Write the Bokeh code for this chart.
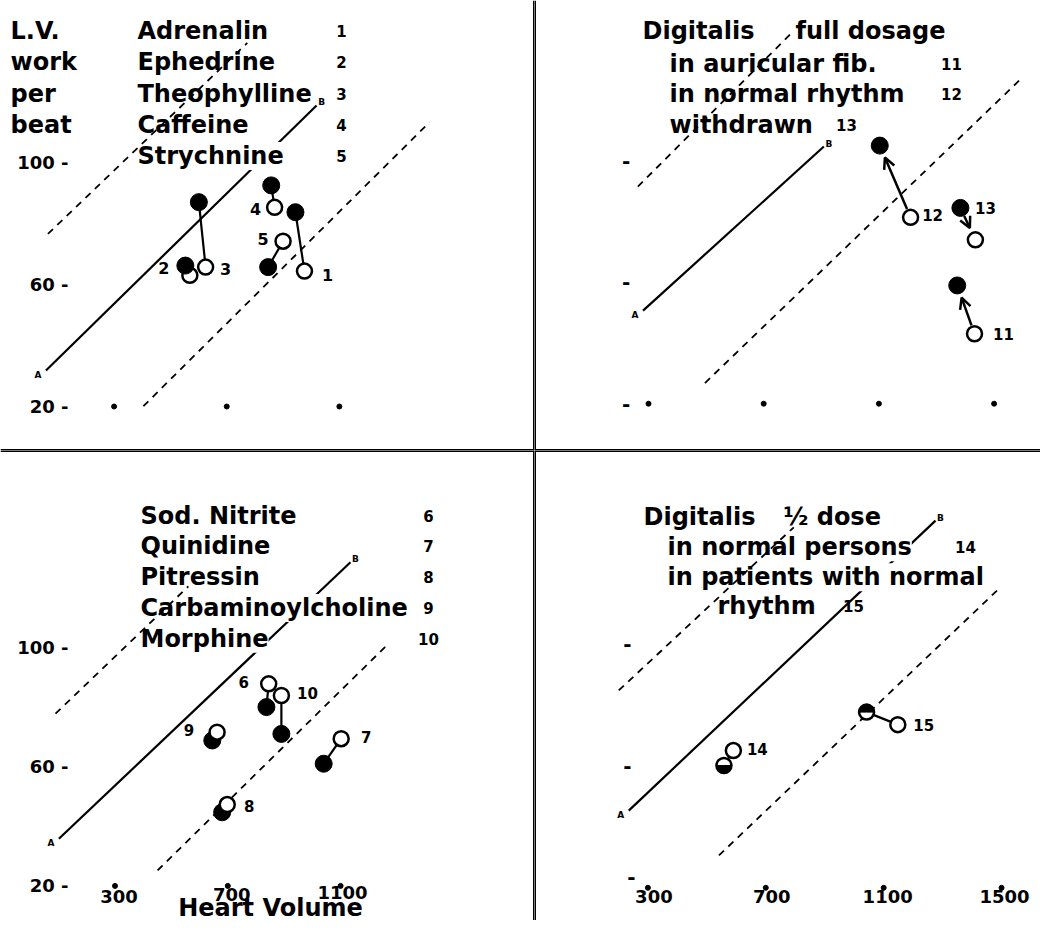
import math
from bokeh.plotting import figure
from bokeh.layouts import gridplot
from bokeh.models import ColumnDataSource, Span, Arrow, OpenHead
from bokeh.core.properties import value
from bokeh.embed import file_html
from bokeh.resources import INLINE

FONT = value("DejaVu Sans")

# ---------------- data ----------------
y_ticks = [20, 60, 100]
x_ticks = [300, 700, 1100, 1500]
x_tick_labels = ["300", "700", "1100", "1500"]
y_title_rows = ["L.V.", "work", "per", "beat"]
x_title = "Heart Volume"

# upper left: drugs 1-5 (open = control, filled = after drug)
p1_names = ["Adrenalin", "Ephedrine", "Theophylline", "Caffeine", "Strychnine"]
p1_ids = ["1", "2", "3", "4", "5"]
p1_open_x = [976, 569, 625, 870, 900]
p1_open_y = [64.4, 63.0, 65.7, 85.3, 74.2]
p1_fill_x = [944, 553, 601, 858, 847]
p1_fill_y = [83.7, 66.2, 87.0, 92.5, 65.7]

# upper right: digitalis, full dosage 11-13
p2_title = ["Digitalis", "full dosage"]
p2_rows = ["in auricular fib.", "in normal rhythm", "withdrawn"]
p2_ids = ["11", "12", "13"]
p2_open_x = [1432, 1210, 1435]
p2_open_y = [43.0, 81.3, 73.9]
p2_fill_x = [1372, 1103, 1383]
p2_fill_y = [58.9, 104.9, 84.4]
p2_arrow_from = ["open", "open", "filled"]

# lower left: drugs 6-10
p3_names = ["Sod. Nitrite", "Quinidine", "Pitressin", "Carbaminoylcholine", "Morphine"]
p3_ids = ["6", "7", "8", "9", "10"]
p3_open_x = [845, 1102, 698, 662, 890]
p3_open_y = [87.8, 69.4, 47.3, 71.6, 83.9]
p3_fill_x = [837, 1040, 680, 645, 890]
p3_fill_y = [80.0, 61.0, 44.7, 68.8, 71.0]

# lower right: digitalis 1/2 dose 14-15
p4_title = ["Digitalis", "\u00bd dose"]
p4_rows = ["in normal persons", "in patients with normal", "rhythm"]
p4_ids = ["14", "15"]
p4_open_x = [590, 1148]
p4_open_y = [65.0, 73.5]
p4_fill_x = [558, 1042]
p4_fill_y = [60.1, 77.6]
p4_half = ["bottom", "top"]

# normal line A-B (solid) and its limits (dashed): [start, end]
p1_norm_x, p1_norm_y = [58, 1019], [31.8, 118.7]
p1_hi_x, p1_hi_y = [65, 773], [76.6, 139.2]
p1_lo_x, p1_lo_y = [404, 1420], [20.1, 113.2]
p2_norm_x, p2_norm_y = [281, 909], [50.6, 104.6]
p2_hi_x, p2_hi_y = [263, 793], [91.4, 141.6]
p2_lo_x, p2_lo_y = [496, 1597], [26.8, 127.2]
p3_norm_x, p3_norm_y = [101, 1135], [35.8, 128.6]
p3_hi_x, p3_hi_y = [89, 560], [77.8, 120.5]
p3_lo_x, p3_lo_y = [451, 1270], [25.2, 101.3]
p4_norm_x, p4_norm_y = [235, 1276], [45.3, 140.4]
p4_hi_x, p4_hi_y = [201, 795], [84.7, 138.2]
p4_lo_x, p4_lo_y = [541, 1485], [30.6, 117.5]

# ---------------- layout (picture pixels) ----------------
CAL = [
    dict(left=0, top=0, w=534, h=450, x300=113.6, kx=0.2816, y100=162.0, ky=3.05),
    dict(left=534, top=0, w=506, h=450, x300=648.0, kx=0.288, y100=160.0, ky=3.04),
    dict(left=0, top=450, w=534, h=470, x300=114.5, kx=0.282, y100=647.0, ky=2.98),
    dict(left=534, top=450, w=506, h=470, x300=647.4, kx=0.2947, y100=643.3, ky=3.05),
]


def X(c, px):
    return 300 + (px - c["x300"]) / c["kx"]


def Y(c, py):
    return 100 - (py - c["y100"]) / c["ky"]


def make_fig(c):
    xs = 300 - (c["x300"] - c["left"]) / c["kx"]
    xe = xs + c["w"] / c["kx"]
    ye = 100 + (c["y100"] - c["top"]) / c["ky"]
    ys = ye - c["h"] / c["ky"]
    p = figure(width=c["w"], height=c["h"], x_range=(xs, xe), y_range=(ys, ye),
               x_axis_type=None, y_axis_type=None, toolbar_location=None,
               output_backend="svg", min_border=0, outline_line_color=None,
               background_fill_color="white", border_fill_color="white")
    return p


def texts(p, xs, ys, labels, size, align="left", bg=True, xo=None, yo=None):
    n = len(labels)
    data = dict(x=list(xs), y=list(ys), t=list(labels),
                xo=list(xo) if xo is not None else [0] * n,
                yo=list(yo) if yo is not None else [0] * n)
    src = ColumnDataSource(data)
    extra = dict(background_fill_color="white") if bg else {}
    p.text(x="x", y="y", text="t", source=src, text_font=FONT, text_font_style="bold",
           text_font_size=f"{size}px", text_align=align, text_baseline="middle",
           text_color="black", x_offset="xo", y_offset="yo", **extra)


def solid(p, x, y):
    p.line(x, y, line_color="black", line_width=2.2)


def dashed(p, x, y):
    p.line(x, y, line_color="black", line_width=1.8, line_dash="7 6")


def ab_marks(p, x, y):
    texts(p, [x[0], x[1]], [y[0], y[1]], ["A", "B"], 9, align="center", bg=False,
          xo=[-8, 5], yo=[4, -3])


def open_pts(p, x, y):
    p.scatter(x, y, size=15, marker="circle", fill_color="white", line_color="black", line_width=2.5)


def fill_pts(p, x, y):
    p.scatter(x, y, size=17, marker="circle", fill_color="black", line_color="black", line_width=1)


def connectors(p, ox, oy, fx, fy):
    p.segment(ox, oy, fx, fy, line_color="black", line_width=2.2)


TXT = 24
NUM = 15
TICK = 18

# ---------------- panel 1 ----------------
c = CAL[0]
p1 = make_fig(c)
solid(p1, p1_norm_x, p1_norm_y)
rows1 = [30.4 + 31.3 * i for i in range(5)]
texts(p1, [X(c, 10)] * 4, [Y(c, r) for r in rows1[:4]], y_title_rows, TXT)
texts(p1, [X(c, 137)] * 5, [Y(c, r) for r in rows1], p1_names, TXT)
texts(p1, [X(c, 341)] * 5, [Y(c, r) for r in rows1], p1_ids, NUM, align="center", bg=False)
dashed(p1, p1_hi_x, p1_hi_y)
dashed(p1, p1_lo_x, p1_lo_y)
ab_marks(p1, p1_norm_x, p1_norm_y)
connectors(p1, p1_open_x, p1_open_y, p1_fill_x, p1_fill_y)
open_pts(p1, p1_open_x, p1_open_y)
fill_pts(p1, p1_fill_x, p1_fill_y)
texts(p1, p1_open_x, p1_open_y, p1_ids, NUM + 1, align="center", bg=False,
      xo=[23, -26, 20, -19, -20], yo=[4, -7, 2, 2, -2])
texts(p1, [X(c, 68)] * 3, y_ticks, ["20 -", "60 -", "100 -"], TICK, align="right", bg=False)
p1.scatter(x_ticks[:3], [y_ticks[0]] * 3, size=5, marker="circle", color="black")

# ---------------- panel 2 ----------------
c = CAL[1]
p2 = make_fig(c)
solid(p2, p2_norm_x, p2_norm_y)
texts(p2, [X(c, 642), X(c, 795)], [Y(c, 30.2)] * 2, p2_title, TXT)
rows2 = [63.7 + 30.2 * i for i in range(3)]
texts(p2, [X(c, 669)] * 3, [Y(c, r) for r in rows2], p2_rows, TXT)
texts(p2, [X(c, 951), X(c, 951), X(c, 846)], [Y(c, r) for r in rows2], p2_ids, NUM,
      align="center", bg=False)
dashed(p2, p2_hi_x, p2_hi_y)
dashed(p2, p2_lo_x, p2_lo_y)
ab_marks(p2, p2_norm_x, p2_norm_y)
for i in range(len(p2_ids)):
    if p2_arrow_from[i] == "open":
        ax0, ay0, ax1, ay1 = p2_open_x[i], p2_open_y[i], p2_fill_x[i], p2_fill_y[i]
    else:
        ax0, ay0, ax1, ay1 = p2_fill_x[i], p2_fill_y[i], p2_open_x[i], p2_open_y[i]
    dxp = (ax1 - ax0) * c["kx"]
    dyp = (ay1 - ay0) * c["ky"]
    L = math.hypot(dxp, dyp)
    ux, uy = dxp / L, dyp / L
    p2.add_layout(Arrow(end=OpenHead(size=11, line_width=2.5, line_color="black"),
                        x_start=ax0 + ux * 9 / c["kx"], y_start=ay0 + uy * 9 / c["ky"],
                        x_end=ax1 - ux * 13 / c["kx"], y_end=ay1 - uy * 13 / c["ky"],
                        line_width=2.5, line_color="black"))
open_pts(p2, p2_open_x, p2_open_y)
fill_pts(p2, p2_fill_x, p2_fill_y)
texts(p2, p2_open_x, p2_open_y, p2_ids, NUM, align="center", bg=False,
      xo=[29, 22, 10], yo=[0, -2, -32])
texts(p2, [X(c, 625.6)] * 3, y_ticks, ["-", "-", "-"], TICK + 2, align="center", bg=False)
p2.scatter(x_ticks, [y_ticks[0]] * 4, size=5, marker="circle", color="black")

# ---------------- panel 3 ----------------
c = CAL[2]
p3 = make_fig(c)
solid(p3, p3_norm_x, p3_norm_y)
rows3 = [515 + 30.8 * i for i in range(5)]
texts(p3, [X(c, 140)] * 5, [Y(c, r) for r in rows3], p3_names, TXT)
texts(p3, [X(c, 428)] * 5, [Y(c, r) for r in rows3], p3_ids, NUM, align="center", bg=False)
dashed(p3, p3_hi_x, p3_hi_y)
dashed(p3, p3_lo_x, p3_lo_y)
ab_marks(p3, p3_norm_x, p3_norm_y)
connectors(p3, p3_open_x, p3_open_y, p3_fill_x, p3_fill_y)
fill_pts(p3, p3_fill_x, p3_fill_y)
open_pts(p3, p3_open_x, p3_open_y)
texts(p3, p3_open_x, p3_open_y, p3_ids, NUM, align="center", bg=False,
      xo=[-25, 25, 22, -28, 26], yo=[-2, -2, 1, -2, -2])
texts(p3, [X(c, 68)] * 3, y_ticks, ["20 -", "60 -", "100 -"], TICK, align="right", bg=False)
p3.scatter(x_ticks[:3], [y_ticks[0]] * 3, size=5, marker="circle", color="black")
texts(p3, x_ticks[:3], [y_ticks[0]] * 3, x_tick_labels[:3], TICK, align="center", bg=False,
      xo=[4, 4, 2], yo=[11, 9, 7])
texts(p3, [X(c, 270)], [Y(c, 907)], [x_title], 24, align="center", bg=False)

# ---------------- panel 4 ----------------
c = CAL[3]
p4 = make_fig(c)
solid(p4, p4_norm_x, p4_norm_y)
texts(p4, [X(c, 643), X(c, 783)], [Y(c, 516.7)] * 2, p4_title, TXT)
texts(p4, [X(c, 667), X(c, 667), X(c, 717)], [Y(c, 546.7), Y(c, 576.7), Y(c, 605)], p4_rows, TXT)
texts(p4, [X(c, 965), X(c, 853)], [Y(c, 546.7), Y(c, 605)], p4_ids, NUM, align="center", bg=False)
dashed(p4, p4_hi_x, p4_hi_y)
dashed(p4, p4_lo_x, p4_lo_y)
ab_marks(p4, p4_norm_x, p4_norm_y)
connectors(p4, p4_open_x, p4_open_y, p4_fill_x, p4_fill_y)
open_pts(p4, p4_fill_x, p4_fill_y)
half_start = [math.pi if h == "bottom" else 0.0 for h in p4_half]
half_end = [2 * math.pi if h == "bottom" else math.pi for h in p4_half]
p4.wedge(x=p4_fill_x, y=p4_fill_y, radius=7.5, radius_units="screen",
         start_angle=half_start, end_angle=half_end, fill_color="black", line_color="black")
open_pts(p4, p4_open_x, p4_open_y)
texts(p4, p4_open_x, p4_open_y, p4_ids, NUM, align="center", bg=False,
      xo=[24, 26], yo=[-2, 0])
texts(p4, [X(c, 627)] * 3, y_ticks, ["-", "-", "-"], TICK + 2, align="center", bg=False,
      xo=[4, 0, 0], yo=[-11, 0, 0])
p4.scatter(x_ticks, [y_ticks[0]] * 4, size=5, marker="circle", color="black")
texts(p4, x_ticks, [y_ticks[0]] * 4, x_tick_labels, TICK, align="center", bg=False,
      xo=[6, 6, 4, 3], yo=[9, 9, 9, 9])

# ---------------- dividers ----------------
for p, vx, hy in [(p1, "end", "start"), (p2, "start", "start"), (p3, "end", "end"), (p4, "start", "end")]:
    p.add_layout(Span(location=getattr(p.x_range, vx), dimension="height",
                      line_color="black", line_width=3))
    p.add_layout(Span(location=getattr(p.y_range, hy), dimension="width",
                      line_color="black", line_width=3))

grid = gridplot([[p1, p2], [p3, p4]], toolbar_location=None)
open("out.html", "w").write(file_html(grid, INLINE))
